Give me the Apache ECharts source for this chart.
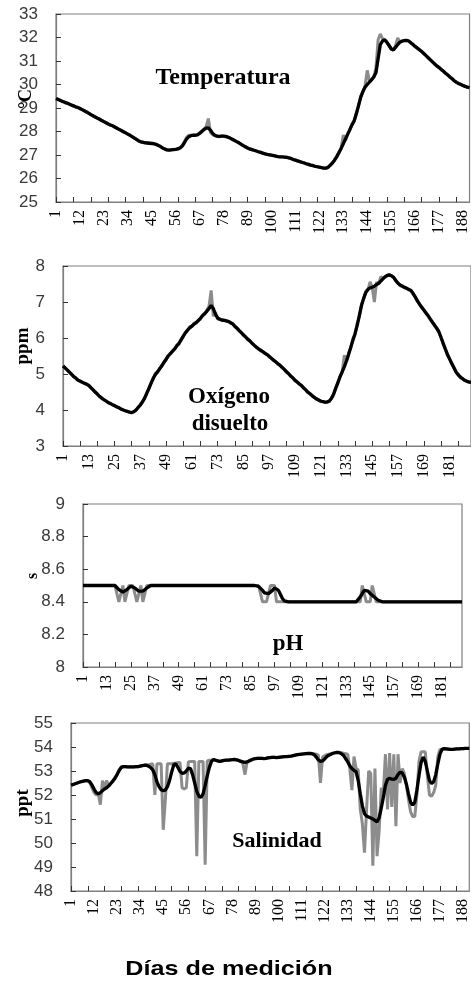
<!DOCTYPE html>
<html><head><meta charset="utf-8">
<script src="https://cdn.jsdelivr.net/npm/echarts@6/dist/echarts.min.js"></script>
<style>html,body{margin:0;padding:0;background:#fff}#c{width:471px;height:983px}</style>
</head><body><div id="c"></div>
<script>
const days = Array.from({length:191},(_,i)=>String(i+1));

const tempRaw = [
29.42,29.37,29.33,29.28,29.25,29.20,29.18,29.13,29.10,29.05,
29.03,28.97,28.94,28.88,28.84,28.77,28.73,28.66,28.63,28.56,
28.53,28.46,28.43,28.36,28.33,28.27,28.25,28.18,28.15,28.08,
28.05,27.98,27.95,27.88,27.85,27.77,27.73,27.65,27.61,27.55,
27.55,27.52,27.52,27.49,27.50,27.47,27.46,27.40,27.37,27.29,
27.26,27.21,27.21,27.22,27.24,27.23,27.27,27.31,27.40,27.58,
27.75,27.84,27.84,27.85,27.83,27.87,27.95,28.02,28.10,28.22,
28.55,27.95,27.86,27.82,27.80,27.78,27.81,27.80,27.78,27.76,
27.72,27.66,27.63,27.56,27.53,27.45,27.41,27.34,27.31,27.25,
27.24,27.19,27.18,27.13,27.12,27.07,27.06,27.02,27.02,26.98,
26.98,26.94,26.94,26.91,26.93,26.90,26.91,26.87,26.86,26.80,
26.79,26.74,26.73,26.68,26.67,26.62,26.61,26.56,26.56,26.51,
26.51,26.47,26.47,26.43,26.45,26.47,26.58,26.65,26.80,26.92,
27.12,27.30,27.85,27.62,27.90,28.06,28.32,28.44,28.80,29.08,
29.50,29.68,29.95,30.60,30.15,30.22,30.30,30.70,31.90,32.15,
31.95,31.92,31.78,31.68,31.50,31.48,31.65,31.98,31.82,31.85,
31.88,31.87,31.86,31.77,31.71,31.61,31.56,31.47,31.41,31.31,
31.24,31.13,31.06,30.95,30.88,30.78,30.73,30.63,30.57,30.47,
30.41,30.31,30.25,30.15,30.10,30.03,30.01,29.95,29.93,29.88,
29.87];
const tempAvg = [
29.40,29.36,29.32,29.28,29.24,29.21,29.17,29.13,29.09,29.05,
29.02,28.98,28.93,28.88,28.83,28.78,28.72,28.67,28.62,28.57,
28.52,28.47,28.42,28.37,28.32,28.28,28.24,28.19,28.14,28.09,
28.04,27.99,27.94,27.89,27.84,27.78,27.72,27.66,27.60,27.56,
27.54,27.52,27.51,27.50,27.49,27.48,27.45,27.41,27.36,27.30,
27.25,27.22,27.21,27.22,27.23,27.24,27.26,27.30,27.38,27.52,
27.68,27.78,27.82,27.84,27.84,27.86,27.92,28.00,28.08,28.14,
28.15,28.05,27.92,27.84,27.80,27.79,27.80,27.80,27.79,27.76,
27.72,27.67,27.62,27.57,27.52,27.46,27.40,27.35,27.30,27.26,
27.23,27.20,27.17,27.14,27.11,27.08,27.05,27.03,27.01,26.99,
26.97,26.95,26.93,26.92,26.92,26.91,26.90,26.88,26.85,26.81,
26.78,26.75,26.72,26.69,26.66,26.63,26.60,26.57,26.55,26.52,
26.50,26.48,26.46,26.44,26.44,26.48,26.56,26.66,26.78,26.93,
27.10,27.28,27.48,27.68,27.88,28.08,28.28,28.46,28.75,29.10,
29.45,29.70,29.88,30.00,30.10,30.20,30.32,30.50,31.10,31.70,
31.85,31.90,31.80,31.66,31.52,31.47,31.58,31.70,31.80,31.84,
31.87,31.88,31.85,31.78,31.70,31.62,31.55,31.48,31.40,31.32,
31.23,31.14,31.05,30.96,30.87,30.79,30.72,30.64,30.56,30.48,
30.40,30.32,30.24,30.16,30.09,30.04,30.00,29.96,29.92,29.89,
29.87];

const oxyRaw = [
5.23,5.16,5.12,5.04,5.00,4.92,4.89,4.82,4.81,4.76,
4.75,4.71,4.69,4.61,4.57,4.49,4.45,4.37,4.34,4.28,
4.26,4.20,4.19,4.14,4.13,4.08,4.07,4.02,4.01,3.97,
3.97,3.93,3.92,3.96,3.99,4.08,4.13,4.24,4.32,4.48,
4.58,4.76,4.86,5.02,5.04,5.16,5.21,5.34,5.39,5.52,
5.55,5.65,5.68,5.80,5.83,5.97,6.03,6.16,6.20,6.32,
6.31,6.42,6.40,6.50,6.52,6.64,6.66,6.78,6.88,7.32,
6.60,6.72,6.52,6.54,6.48,6.50,6.46,6.47,6.41,6.40,
6.31,6.28,6.19,6.16,6.07,6.04,5.95,5.93,5.84,5.81,
5.73,5.71,5.64,5.63,5.56,5.55,5.47,5.45,5.37,5.35,
5.27,5.25,5.17,5.14,5.05,5.02,4.93,4.90,4.81,4.79,
4.71,4.69,4.60,4.57,4.48,4.46,4.38,4.36,4.29,4.29,
4.23,4.24,4.20,4.23,4.23,4.34,4.42,4.62,4.74,4.94,
5.04,5.52,5.34,5.58,5.72,5.98,6.10,6.40,6.60,6.94,
7.08,7.30,7.33,7.56,7.40,7.00,7.55,7.50,7.70,7.66,
7.71,7.73,7.77,7.72,7.69,7.58,7.53,7.45,7.45,7.39,
7.39,7.33,7.33,7.22,7.15,7.02,6.95,6.84,6.79,6.68,
6.63,6.51,6.45,6.34,6.28,6.16,6.03,5.84,5.71,5.53,
5.43,5.28,5.19,5.04,4.99,4.90,4.88,4.81,4.81,4.76,
4.77];
const oxyAvg = [
5.22,5.17,5.11,5.05,4.99,4.93,4.88,4.83,4.80,4.77,
4.74,4.72,4.68,4.62,4.56,4.50,4.44,4.38,4.33,4.29,
4.25,4.21,4.18,4.15,4.12,4.09,4.06,4.03,4.00,3.98,
3.96,3.94,3.93,3.95,4.00,4.07,4.14,4.22,4.33,4.46,
4.60,4.74,4.88,4.98,5.06,5.14,5.23,5.32,5.41,5.50,
5.57,5.63,5.70,5.78,5.85,5.95,6.05,6.14,6.22,6.28,
6.33,6.38,6.43,6.48,6.55,6.62,6.68,6.74,6.82,6.90,
6.82,6.66,6.56,6.52,6.50,6.49,6.48,6.46,6.43,6.39,
6.33,6.27,6.21,6.15,6.09,6.03,5.97,5.92,5.86,5.80,
5.75,5.70,5.66,5.62,5.58,5.54,5.49,5.44,5.39,5.34,
5.29,5.24,5.19,5.13,5.07,5.01,4.95,4.89,4.83,4.78,
4.73,4.68,4.62,4.56,4.50,4.45,4.40,4.35,4.31,4.28,
4.25,4.23,4.22,4.22,4.25,4.32,4.44,4.60,4.76,4.92,
5.06,5.20,5.36,5.54,5.74,5.94,6.12,6.35,6.62,6.90,
7.10,7.26,7.35,7.39,7.41,7.44,7.48,7.52,7.58,7.64,
7.70,7.74,7.75,7.73,7.68,7.60,7.52,7.47,7.44,7.41,
7.38,7.35,7.32,7.24,7.14,7.04,6.94,6.86,6.78,6.70,
6.62,6.53,6.44,6.36,6.27,6.18,6.02,5.86,5.70,5.55,
5.42,5.30,5.18,5.06,4.98,4.92,4.87,4.83,4.80,4.78,
4.77];

const phRaw = [
8.5,8.5,8.5,8.5,8.5,8.5,8.5,8.5,8.5,8.5,
8.5,8.5,8.5,8.5,8.5,8.5,8.5,8.5,8.4,8.4,
8.5,8.4,8.4,8.5,8.5,8.5,8.5,8.4,8.4,8.5,
8.4,8.4,8.5,8.5,8.5,8.5,8.5,8.5,8.5,8.5,
8.5,8.5,8.5,8.5,8.5,8.5,8.5,8.5,8.5,8.5,
8.5,8.5,8.5,8.5,8.5,8.5,8.5,8.5,8.5,8.5,
8.5,8.5,8.5,8.5,8.5,8.5,8.5,8.5,8.5,8.5,
8.5,8.5,8.5,8.5,8.5,8.5,8.5,8.5,8.5,8.5,
8.5,8.5,8.5,8.5,8.5,8.5,8.5,8.5,8.5,8.5,
8.4,8.4,8.4,8.4,8.5,8.5,8.5,8.4,8.4,8.4,
8.4,8.4,8.4,8.4,8.4,8.4,8.4,8.4,8.4,8.4,
8.4,8.4,8.4,8.4,8.4,8.4,8.4,8.4,8.4,8.4,
8.4,8.4,8.4,8.4,8.4,8.4,8.4,8.4,8.4,8.4,
8.4,8.4,8.4,8.4,8.4,8.4,8.4,8.4,8.4,8.4,
8.5,8.5,8.4,8.4,8.4,8.5,8.5,8.4,8.4,8.4,
8.4,8.4,8.4,8.4,8.4,8.4,8.4,8.4,8.4,8.4,
8.4,8.4,8.4,8.4,8.4,8.4,8.4,8.4,8.4,8.4,
8.4,8.4,8.4,8.4,8.4,8.4,8.4,8.4,8.4,8.4,
8.4,8.4,8.4,8.4,8.4,8.4,8.4,8.4,8.4,8.4,
8.4];
const phAvg = [
8.5,8.5,8.5,8.5,8.5,8.5,8.5,8.5,8.5,8.5,
8.5,8.5,8.5,8.5,8.5,8.5,8.5,8.49,8.475,8.465,
8.46,8.465,8.475,8.485,8.495,8.495,8.485,8.475,8.465,8.46,
8.465,8.475,8.485,8.495,8.5,8.5,8.5,8.5,8.5,8.5,
8.5,8.5,8.5,8.5,8.5,8.5,8.5,8.5,8.5,8.5,
8.5,8.5,8.5,8.5,8.5,8.5,8.5,8.5,8.5,8.5,
8.5,8.5,8.5,8.5,8.5,8.5,8.5,8.5,8.5,8.5,
8.5,8.5,8.5,8.5,8.5,8.5,8.5,8.5,8.5,8.5,
8.5,8.5,8.5,8.5,8.5,8.5,8.5,8.5,8.495,8.485,
8.47,8.455,8.45,8.45,8.455,8.47,8.485,8.49,8.47,8.445,
8.42,8.405,8.4,8.4,8.4,8.4,8.4,8.4,8.4,8.4,
8.4,8.4,8.4,8.4,8.4,8.4,8.4,8.4,8.4,8.4,
8.4,8.4,8.4,8.4,8.4,8.4,8.4,8.4,8.4,8.4,
8.4,8.4,8.4,8.4,8.4,8.4,8.4,8.4,8.41,8.43,
8.45,8.47,8.475,8.465,8.45,8.44,8.43,8.42,8.41,8.405,
8.4,8.4,8.4,8.4,8.4,8.4,8.4,8.4,8.4,8.4,
8.4,8.4,8.4,8.4,8.4,8.4,8.4,8.4,8.4,8.4,
8.4,8.4,8.4,8.4,8.4,8.4,8.4,8.4,8.4,8.4,
8.4,8.4,8.4,8.4,8.4,8.4,8.4,8.4,8.4,8.4,
8.4];

const salRaw = [
52.40,52.43,52.47,52.50,52.54,52.56,52.58,52.60,52.58,52.50,
52.30,52.10,52.00,52.05,51.60,52.60,52.30,52.60,52.35,52.50,
52.60,52.72,52.88,53.05,53.18,53.18,53.18,53.17,53.17,53.17,
53.17,53.18,53.18,53.20,53.22,53.24,53.25,53.26,53.28,53.30,
52.00,53.30,53.30,53.30,50.55,51.80,53.30,53.30,53.30,53.32,
53.33,53.35,53.35,52.30,52.25,52.30,53.38,53.40,53.40,53.40,
49.45,53.40,53.40,53.40,49.10,53.42,53.45,53.45,53.48,53.45,
53.42,53.40,53.42,53.44,53.45,53.45,53.46,53.47,53.48,53.46,
53.44,53.43,53.30,52.85,53.38,53.44,53.47,53.50,53.52,53.53,
53.53,53.53,53.52,53.53,53.55,53.56,53.57,53.57,53.56,53.57,
53.58,53.59,53.60,53.60,53.61,53.62,53.64,53.66,53.68,53.69,
53.70,53.71,53.72,53.73,53.73,53.72,53.72,53.70,53.66,52.50,
53.58,53.64,53.68,53.70,53.72,53.74,53.76,53.78,53.78,53.76,
53.74,53.72,53.70,53.10,52.20,53.60,53.10,53.05,51.40,50.80,
49.60,51.40,53.00,52.90,49.05,53.10,49.45,50.50,52.30,52.10,
53.70,51.40,53.75,51.50,53.70,50.70,53.70,52.50,53.10,52.90,
52.40,51.80,51.30,51.10,51.10,52.00,53.40,53.80,53.80,53.80,
52.80,52.00,51.95,52.10,52.40,53.60,53.90,53.90,53.93,53.92,
53.91,53.90,53.90,53.91,53.92,53.92,53.93,53.93,53.94,53.94,
53.94];
const salAvg = [
52.41,52.44,52.47,52.50,52.53,52.56,52.58,52.60,52.60,52.55,
52.42,52.25,52.10,52.05,52.10,52.18,52.25,52.30,52.38,52.48,
52.58,52.70,52.85,53.02,53.15,53.18,53.18,53.17,53.17,53.17,
53.17,53.18,53.18,53.20,53.22,53.24,53.24,53.20,53.14,53.05,
52.85,52.55,52.35,52.22,52.18,52.20,52.35,52.60,52.95,53.25,
53.30,53.15,52.98,52.90,52.92,53.00,53.12,53.10,52.85,52.50,
52.15,51.95,51.90,52.05,52.40,52.80,53.15,53.40,53.48,53.45,
53.42,53.40,53.42,53.44,53.45,53.45,53.46,53.47,53.48,53.46,
53.44,53.40,53.38,53.36,53.38,53.42,53.46,53.50,53.52,53.53,
53.53,53.53,53.52,53.53,53.55,53.56,53.57,53.57,53.56,53.57,
53.58,53.59,53.60,53.60,53.61,53.62,53.64,53.66,53.68,53.69,
53.70,53.71,53.72,53.73,53.73,53.72,53.68,53.58,53.46,53.40,
53.42,53.50,53.60,53.66,53.70,53.74,53.76,53.78,53.76,53.72,
53.65,53.52,53.38,53.22,53.10,53.03,52.97,52.60,52.05,51.55,
51.22,51.12,51.08,51.04,51.00,50.94,50.88,51.05,51.45,51.90,
52.40,52.65,52.70,52.66,52.65,52.70,52.85,52.95,52.92,52.75,
52.45,52.05,51.70,51.58,51.70,52.20,52.80,53.35,53.58,53.40,
53.00,52.60,52.48,52.55,52.85,53.30,53.70,53.90,53.93,53.92,
53.91,53.90,53.90,53.91,53.92,53.92,53.93,53.93,53.94,53.94,
53.94];

const panels = [
  {raw: tempRaw, avg: tempAvg, min: 25, max: 33, step: 1, labelEvery: 11},
  {raw: oxyRaw, avg: oxyAvg, min: 3, max: 8, step: 1, labelEvery: 12},
  {raw: phRaw, avg: phAvg, min: 8, max: 9, step: 0.2, labelEvery: 12},
  {raw: salRaw, avg: salAvg, min: 48, max: 55, step: 1, labelEvery: 11}
];
const gridBoxes = [
  {left: 56, top: 14, right: -1, height: 188},
  {left: 63, top: 266, right: -1, height: 180},
  {left: 83, top: 504, right: 9, height: 163},
  {left: 71, top: 723, right: -1, height: 168}
];
const frame = '#7f7f7f';

const option = {
  animation: false,
  backgroundColor: '#fff',
  grid: gridBoxes.map(g => Object.assign({show: true, borderColor: frame, borderWidth: 1.2, backgroundColor: 'transparent', containLabel: false}, g)),
  xAxis: panels.map((p, i) => ({
    type: 'category', gridIndex: i, data: days, boundaryGap: false,
    axisLine: {show: true, lineStyle: {color: frame, width: 1.2}},
    axisTick: {show: true, inside: true, length: 5, interval: (idx) => idx % 8 === 0, lineStyle: {color: '#333'}},
    axisLabel: {rotate: 90, interval: (idx) => idx % p.labelEvery === 0, margin: 8, fontFamily: 'Liberation Serif', fontSize: 16, color: '#000', hideOverlap: false},
    splitLine: {show: false}
  })),
  yAxis: panels.map((p, i) => ({
    type: 'value', gridIndex: i, min: p.min, max: p.max, interval: p.step,
    axisLine: {show: true, lineStyle: {color: frame, width: 1.2}},
    axisTick: {show: true, inside: true, length: 5, lineStyle: {color: '#333'}},
    axisLabel: {margin: 18, fontFamily: 'Liberation Sans', fontSize: 17, color: '#3a3a3a'},
    splitLine: {show: false}
  })),
  series: panels.flatMap((p, i) => [
    {type: 'line', xAxisIndex: i, yAxisIndex: i, data: p.raw, symbol: 'none', lineStyle: {color: '#8c8c8c', width: 3}, z: 2},
    {type: 'line', xAxisIndex: i, yAxisIndex: i, data: p.avg, symbol: 'none', lineStyle: {color: '#000', width: 3.3}, z: 3}
  ]),
  graphic: [
    {type: 'text', x: 26, y: 99, rotation: Math.PI / 2, style: {text: '°C', fontFamily: 'Liberation Serif', fontWeight: 'bold', fontSize: 18, fill: '#000', align: 'center', verticalAlign: 'middle'}},
    {type: 'text', x: 223, y: 78, style: {text: 'Temperatura', fontFamily: 'Liberation Serif', fontWeight: 'bold', fontSize: 24, fill: '#000', align: 'center', verticalAlign: 'middle'}},
    {type: 'text', x: 23, y: 346, rotation: Math.PI / 2, style: {text: 'ppm', fontFamily: 'Liberation Serif', fontWeight: 'bold', fontSize: 19, fill: '#000', align: 'center', verticalAlign: 'middle'}},
    {type: 'text', x: 229, y: 397, style: {text: 'Oxígeno', fontFamily: 'Liberation Serif', fontWeight: 'bold', fontSize: 23, fill: '#000', align: 'center', verticalAlign: 'middle'}},
    {type: 'text', x: 230, y: 424, style: {text: 'disuelto', fontFamily: 'Liberation Serif', fontWeight: 'bold', fontSize: 23, fill: '#000', align: 'center', verticalAlign: 'middle'}},
    {type: 'text', x: 33, y: 576, rotation: Math.PI / 2, style: {text: 's', fontFamily: 'Liberation Serif', fontWeight: 'bold', fontSize: 16, fill: '#000', align: 'center', verticalAlign: 'middle'}},
    {type: 'text', x: 288, y: 644, style: {text: 'pH', fontFamily: 'Liberation Serif', fontWeight: 'bold', fontSize: 23, fill: '#000', align: 'center', verticalAlign: 'middle'}},
    {type: 'text', x: 23, y: 803, rotation: Math.PI / 2, style: {text: 'ppt', fontFamily: 'Liberation Serif', fontWeight: 'bold', fontSize: 19, fill: '#000', align: 'center', verticalAlign: 'middle'}},
    {type: 'text', x: 277, y: 841, style: {text: 'Salinidad', fontFamily: 'Liberation Serif', fontWeight: 'bold', fontSize: 22, fill: '#000', align: 'center', verticalAlign: 'middle'}},
    {type: 'text', x: 229, y: 969, scaleX: 1.2, style: {text: 'Días de medición', fontFamily: 'Liberation Sans', fontWeight: 'bold', fontSize: 21, fill: '#000', align: 'center', verticalAlign: 'middle'}}
  ]
};
const chart = echarts.init(document.getElementById('c'), null, {renderer: 'canvas'});
chart.setOption(option);
</script>
</body></html>
